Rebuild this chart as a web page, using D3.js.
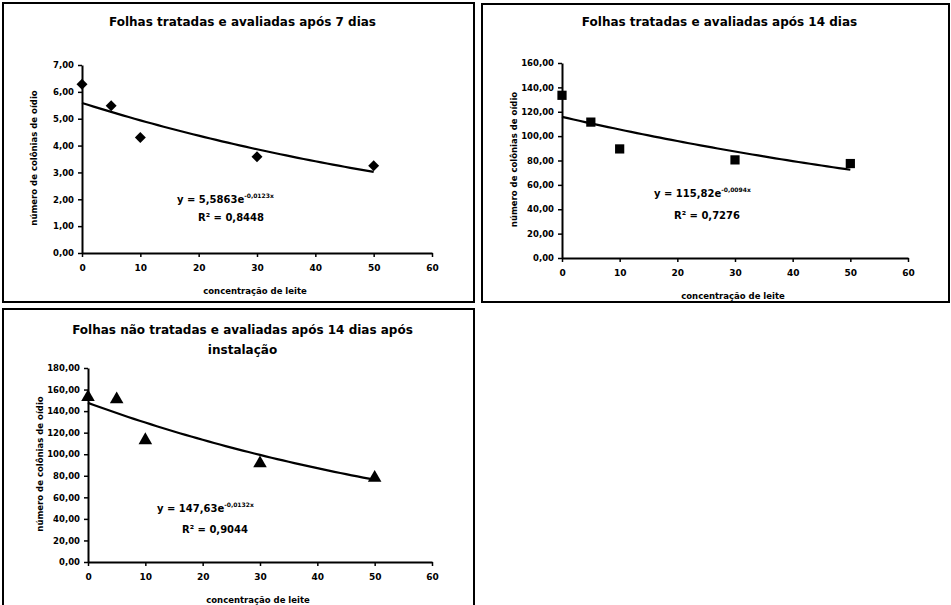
<!DOCTYPE html>
<html>
<head>
<meta charset="utf-8">
<script src="https://cdn.jsdelivr.net/npm/d3@7"></script>
<style>
  body { margin: 0; background: #fff; }
  svg { display: block; font-family: "DejaVu Sans", "Liberation Sans", Arial, sans-serif; }
</style>
</head>
<body>
<svg id="chart" width="951" height="605"></svg>
<script>
// concentration of milk (x) shared by the three panels
const concentracao = [0, 5, 10, 30, 50];

const colonias7 = [6.28, 5.48, 4.30, 3.58, 3.25];
const colonias14 = [133.5, 111.5, 89.5, 80.5, 77.5];
const naoTratadas14 = [153, 151, 113, 91.5, 78];

// trend line coefficients y = a * e^(b x), as printed on the chart
const fitA = [5.5863, 115.82, 147.63];
const fitB = [-0.0123, -0.0094, -0.0132];
const equacoes = ["y = 5,5863e", "y = 115,82e", "y = 147,63e"];
const expoentes = ["-0,0123x", "-0,0094x", "-0,0132x"];
const r2 = ["R² = 0,8448", "R² = 0,7276", "R² = 0,9044"];

const titulos = [
    ["Folhas tratadas e avaliadas após 7 dias"],
    ["Folhas tratadas e avaliadas após 14 dias"],
    ["Folhas não tratadas e avaliadas após 14 dias após", "instalação"]
];
const xTicks = [0, 10, 20, 30, 40, 50, 60];
const yMax = [7, 160, 180];
const yStep = [1, 20, 20];

const panels = [
    { box: [3, 3, 471, 299], plot: [82, 65, 432, 253], title: 26, eq: [177, 203], r2: [231, 221], series: colonias7, marker: "diamond" },
    { box: [482, 4, 467, 298], plot: [562, 63, 908, 258], title: 26, eq: [654, 197], r2: [707, 219], series: colonias14, marker: "square" },
    { box: [3, 309, 471, 310], plot: [88, 368, 432, 562], title: 334, eq: [157, 512], r2: [215, 533], series: naoTratadas14, marker: "triangle" }
];

const svg = d3.select("#chart");
const fmt = d => d3.format(".2f")(d).replace(".", ",");

panels.forEach((p, i) => {
    const g = svg.append("g");
    const [bx, by, bw, bh] = p.box;
    const [x0, y0, x1, y1] = p.plot;

    g.append("rect")
        .attr("x", bx).attr("y", by).attr("width", bw).attr("height", bh)
        .attr("fill", "#fff").attr("stroke", "#000").attr("stroke-width", 2);

    const x = d3.scaleLinear([0, 60], [x0, x1]);
    const y = d3.scaleLinear([0, yMax[i]], [y1, y0]);

    // title
    g.append("text")
        .attr("y", p.title)
        .attr("text-anchor", "middle")
        .style("font-size", "12px").style("font-weight", "bold")
        .selectAll("tspan")
        .data(titulos[i])
        .join("tspan")
            .attr("x", (bx + bx + bw) / 2 + 4)
            .attr("dy", (d, k) => k ? 20 : 0)
            .text(d => d);

    // axes
    const yTicks = d3.range(0, yMax[i] + yStep[i] / 2, yStep[i]);
    const yAxis = g.append("g")
        .attr("transform", `translate(${x0},0)`)
        .call(d3.axisLeft(y).tickValues(yTicks).tickFormat(fmt).tickSize(4).tickSizeOuter(0));
    yAxis.attr("font-family", null);
    yAxis.selectAll("text").style("font-size", "8.5px").style("font-weight", "bold").attr("dx", "-1px");

    const xAxis = g.append("g")
        .attr("transform", `translate(0,${y1})`)
        .call(d3.axisBottom(x).tickValues(xTicks).tickSize(4).tickSizeOuter(0));
    xAxis.attr("font-family", null);
    xAxis.selectAll("text").style("font-size", "9px").style("font-weight", "bold").attr("dy", "1.2em");

    g.selectAll(".domain").attr("stroke-width", 2);
    g.selectAll(".tick line").attr("stroke-width", 1.5);

    // axis titles
    g.append("text")
        .attr("x", (x0 + x1) / 2 - 2)
        .attr("y", y1 + 41)
        .attr("text-anchor", "middle")
        .style("font-size", "8.5px").style("font-weight", "bold")
        .text("concentração de leite");

    g.append("text")
        .attr("transform", `translate(${x0 - 45},${(y0 + y1) / 2 - 1}) rotate(-90)`)
        .attr("text-anchor", "middle")
        .style("font-size", "8.5px").style("font-weight", "bold")
        .text("número de colônias de oídio");

    // trend line from the printed equation
    const xs = d3.range(0, 50.5, 1);
    const line = d3.line().x(d => x(d)).y(d => y(fitA[i] * Math.exp(fitB[i] * d)));
    g.append("path")
        .datum(xs)
        .attr("d", line)
        .attr("fill", "none").attr("stroke", "#000").attr("stroke-width", 2.2);

    // markers
    const symbol = {
        diamond: d3.symbol(d3.symbolSquare, 60),
        square: d3.symbol(d3.symbolSquare, 85),
        triangle: d3.symbol(d3.symbolTriangle, 80)
    }[p.marker];
    const rot = p.marker === "diamond" ? " rotate(45)" : "";
    g.selectAll("path.pt")
        .data(p.series)
        .join("path")
            .attr("class", "pt")
            .attr("transform", (d, k) => `translate(${x(concentracao[k])},${y(d)})${rot}`)
            .attr("d", symbol)
            .attr("fill", "#000");

    // equation labels
    const eq = g.append("text")
        .attr("x", p.eq[0]).attr("y", p.eq[1])
        .style("font-size", "10px").style("font-weight", "bold");
    eq.append("tspan").text(equacoes[i]);
    eq.append("tspan").attr("dy", -5).style("font-size", "6px").text(expoentes[i]);

    g.append("text")
        .attr("x", p.r2[0]).attr("y", p.r2[1])
        .attr("text-anchor", "middle")
        .style("font-size", "10px").style("font-weight", "bold")
        .text(r2[i]);
});
</script>
</body>
</html>
